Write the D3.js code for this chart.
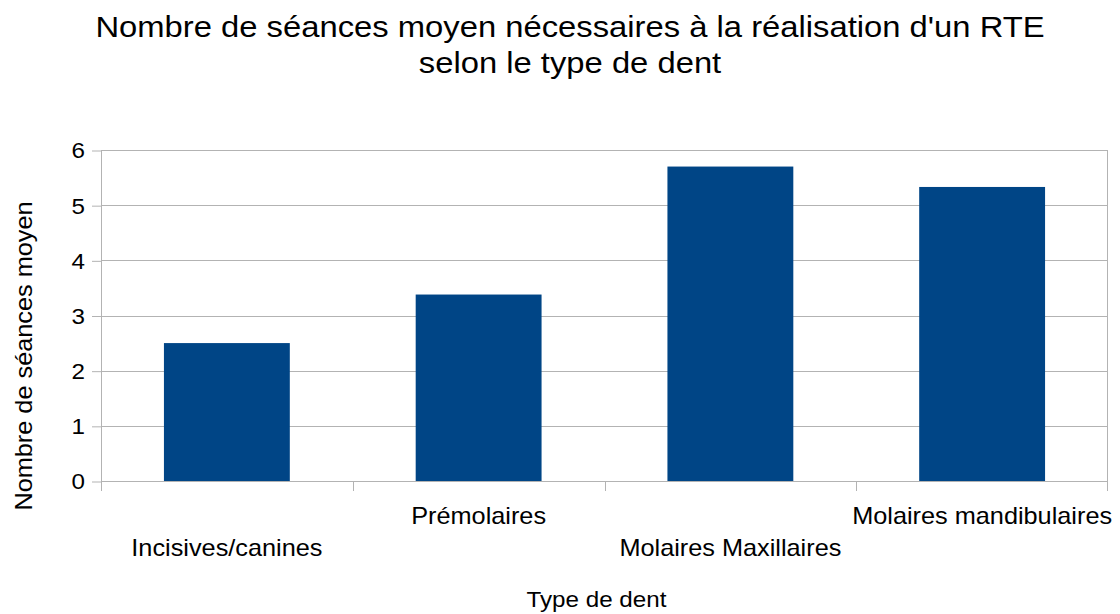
<!DOCTYPE html>
<html>
<head>
<meta charset="utf-8">
<script src="https://cdn.jsdelivr.net/npm/d3@7"></script>
<style>
  html, body { margin: 0; padding: 0; background: #fff; }
  svg { display: block; font-family: "Liberation Sans", Arial, sans-serif; }
</style>
</head>
<body>
<svg id="chart" width="1120" height="614"></svg>
<script>
const categories = ["Incisives/canines", "Prémolaires", "Molaires Maxillaires", "Molaires mandibulaires"];
const values = [2.5, 3.38, 5.7, 5.33];
const yTicks = [0, 1, 2, 3, 4, 5, 6];
const titleLines = ["Nombre de séances moyen nécessaires à la réalisation d'un RTE", "selon le type de dent"];
const xTitle = "Type de dent";
const yTitle = "Nombre de séances moyen";

const SX = 1.1; // horizontal glyph stretch seen in the reference
const svg = d3.select("#chart");
const margin = { left: 101, right: 12, top: 150, bottom: 133 };
const W = 1120, H = 614;
const plotW = W - margin.left - margin.right;
const plotH = H - margin.top - margin.bottom;

const x = d3.scaleBand().domain(categories).range([0, plotW]).paddingInner(0.5).paddingOuter(0.25);
const xEdges = d3.scaleLinear().domain([0, categories.length]).range([0, plotW]);
const y = d3.scaleLinear().domain([0, 6]).range([plotH, 0]);

const g = svg.append("g").attr("transform", `translate(${margin.left},${margin.top})`);

// gridlines
g.append("g").selectAll("line").data(yTicks).join("line")
  .attr("x1", 0).attr("x2", plotW)
  .attr("y1", d => Math.round(y(d)) + 0.5).attr("y2", d => Math.round(y(d)) + 0.5)
  .attr("stroke", "#b3b3b3").attr("stroke-width", 1);

// y axis
const yAxis = g.append("g").call(d3.axisLeft(y).tickValues(yTicks).tickSize(9).tickPadding(6).tickFormat(d3.format("d")));
yAxis.select(".domain").remove();
yAxis.selectAll(".tick line").attr("stroke", "#b3b3b3").attr("transform", "translate(0,0.5)");
yAxis.selectAll(".tick text")
  .attr("font-size", 22).attr("fill", "#000").attr("font-family", "Liberation Sans, Arial, sans-serif")
  .attr("x", -16 / SX).attr("dy", "0.36em")
  .attr("transform", `scale(${SX},1)`);
g.append("line").attr("x1", 0.5).attr("x2", 0.5).attr("y1", 0).attr("y2", plotH + 10).attr("stroke", "#b3b3b3");
g.append("line").attr("x1", plotW - 0.5).attr("x2", plotW - 0.5).attr("y1", 0).attr("y2", plotH + 10).attr("stroke", "#b3b3b3");

// x category boundary ticks
g.append("g").selectAll("line").data(d3.range(1, categories.length)).join("line")
  .attr("x1", d => Math.round(xEdges(d)) + 0.5).attr("x2", d => Math.round(xEdges(d)) + 0.5)
  .attr("y1", plotH).attr("y2", plotH + 10).attr("stroke", "#b3b3b3");

// bars
g.append("g").selectAll("rect").data(values).join("rect")
  .attr("x", (d, i) => x(categories[i]))
  .attr("width", x.bandwidth())
  .attr("y", d => y(d))
  .attr("height", d => y(0) - y(d))
  .attr("fill", "#004586");

// x labels staggered
g.append("g").selectAll("text").data(categories).join("text")
  .attr("transform", (d, i) => `translate(${x(d) + x.bandwidth() / 2},${plotH + (i % 2 === 0 ? 75 : 43)}) scale(${SX},1)`)
  .attr("text-anchor", "middle")
  .attr("font-size", 23)
  .attr("fill", "#000")
  .text(d => d);

// titles
svg.append("g").selectAll("text").data(titleLines).join("text")
  .attr("transform", (d, i) => `translate(570,${37 + i * 36}) scale(1.093,1)`)
  .attr("text-anchor", "middle").attr("font-size", 30).attr("fill", "#000")
  .text(d => d);

svg.append("text").attr("transform", `translate(596.5,607) scale(${SX},1)`).attr("text-anchor", "middle")
  .attr("font-size", 22).attr("fill", "#000").text(xTitle);

svg.append("text").attr("transform", `translate(32,356) rotate(-90) scale(${SX},1)`).attr("text-anchor", "middle")
  .attr("font-size", 23).attr("fill", "#000").text(yTitle);
</script>
</body>
</html>
